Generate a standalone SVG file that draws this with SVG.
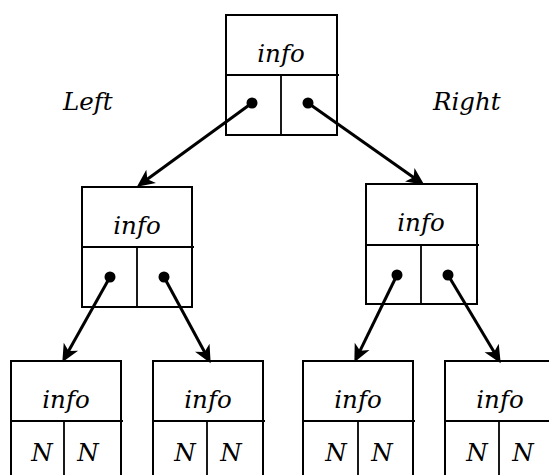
<svg xmlns="http://www.w3.org/2000/svg" width="549" height="475" viewBox="0 0 549 475">
  <style>
    .box { fill: #fff; stroke: #000; stroke-width: 2; }
    .sep { stroke: #000; stroke-width: 1.8; fill: none; }
    .lbl { text-anchor: middle; }
    .ptr { fill: #000; }
    .link { stroke: #000; stroke-width: 3; fill: none; marker-end: url(#head); }
  </style>
  <defs>
    <marker id="head" markerUnits="userSpaceOnUse" markerWidth="20" markerHeight="20" viewBox="-8 -8 17 16" refX="0" refY="0" orient="auto" overflow="visible">
      <path d="M8,0 L-7,-7 L-3,0 L-7,7 Z" fill="#000"/>
    </marker>
  </defs>

  <rect width="549" height="475" fill="#fff"/>

  <!-- side captions -->
  <text x="63" y="110" font-family="DejaVu Serif" font-style="italic" font-size="24.5" fill="#000">Left</text>
  <text x="433" y="110" font-family="DejaVu Serif" font-style="italic" font-size="24.5" fill="#000">Right</text>

  <!-- root -->
  <g id="root">
    <rect class="box" x="226" y="15" width="111" height="120"/>
    <line class="sep" x1="226" y1="75" x2="339" y2="75"/>
    <line class="sep" x1="281" y1="75" x2="281" y2="135"/>
    <text class="lbl" x="281" y="62" font-family="DejaVu Serif" font-style="italic" font-size="24.5" fill="#000">info</text>
    <circle class="ptr" cx="252" cy="103" r="5.5"/>
    <circle class="ptr" cx="308" cy="103" r="5.5"/>
  </g>

  <!-- left child -->
  <g id="left-child">
    <rect class="box" x="82" y="187" width="110" height="120"/>
    <line class="sep" x1="82" y1="247" x2="194" y2="247"/>
    <line class="sep" x1="137" y1="247" x2="137" y2="307"/>
    <text class="lbl" x="137" y="234" font-family="DejaVu Serif" font-style="italic" font-size="24.5" fill="#000">info</text>
    <circle class="ptr" cx="110" cy="277" r="5.5"/>
    <circle class="ptr" cx="164" cy="277" r="5.5"/>
  </g>

  <!-- right child -->
  <g id="right-child">
    <rect class="box" x="366" y="184" width="111" height="120"/>
    <line class="sep" x1="366" y1="245" x2="479" y2="245"/>
    <line class="sep" x1="421" y1="245" x2="421" y2="304"/>
    <text class="lbl" x="421" y="231" font-family="DejaVu Serif" font-style="italic" font-size="24.5" fill="#000">info</text>
    <circle class="ptr" cx="397" cy="275" r="5.5"/>
    <circle class="ptr" cx="448" cy="275" r="5.5"/>
  </g>

  <!-- leaves -->
  <g id="leaf-1">
    <rect class="box" x="11" y="361" width="110" height="120"/>
    <line class="sep" x1="11" y1="421" x2="123" y2="421"/>
    <line class="sep" x1="64" y1="421" x2="64" y2="481"/>
    <text class="lbl" x="66" y="408" font-family="DejaVu Serif" font-style="italic" font-size="24.5" fill="#000">info</text>
    <text class="lbl" x="42" y="461" font-family="DejaVu Serif" font-style="italic" font-size="24.5" fill="#000">N</text>
    <text class="lbl" x="88" y="461" font-family="DejaVu Serif" font-style="italic" font-size="24.5" fill="#000">N</text>
  </g>
  <g id="leaf-2">
    <rect class="box" x="153" y="361" width="110" height="120"/>
    <line class="sep" x1="153" y1="421" x2="265" y2="421"/>
    <line class="sep" x1="207" y1="421" x2="207" y2="481"/>
    <text class="lbl" x="208" y="408" font-family="DejaVu Serif" font-style="italic" font-size="24.5" fill="#000">info</text>
    <text class="lbl" x="185" y="461" font-family="DejaVu Serif" font-style="italic" font-size="24.5" fill="#000">N</text>
    <text class="lbl" x="231" y="461" font-family="DejaVu Serif" font-style="italic" font-size="24.5" fill="#000">N</text>
  </g>
  <g id="leaf-3">
    <rect class="box" x="303" y="361" width="110" height="120"/>
    <line class="sep" x1="303" y1="421" x2="415" y2="421"/>
    <line class="sep" x1="358" y1="421" x2="358" y2="481"/>
    <text class="lbl" x="358" y="408" font-family="DejaVu Serif" font-style="italic" font-size="24.5" fill="#000">info</text>
    <text class="lbl" x="336" y="461" font-family="DejaVu Serif" font-style="italic" font-size="24.5" fill="#000">N</text>
    <text class="lbl" x="382" y="461" font-family="DejaVu Serif" font-style="italic" font-size="24.5" fill="#000">N</text>
  </g>
  <g id="leaf-4">
    <rect class="box" x="445" y="361" width="110" height="120"/>
    <line class="sep" x1="445" y1="421" x2="557" y2="421"/>
    <line class="sep" x1="499" y1="421" x2="499" y2="481"/>
    <text class="lbl" x="500" y="408" font-family="DejaVu Serif" font-style="italic" font-size="24.5" fill="#000">info</text>
    <text class="lbl" x="477" y="461" font-family="DejaVu Serif" font-style="italic" font-size="24.5" fill="#000">N</text>
    <text class="lbl" x="523" y="461" font-family="DejaVu Serif" font-style="italic" font-size="24.5" fill="#000">N</text>
  </g>

  <!-- pointer links -->
  <g id="links">
    <path class="link" d="M252,103 L144.5,181.3"/>
    <path class="link" d="M308,103 L416.5,179.4"/>
    <path class="link" d="M110,277 L66.9,354"/>
    <path class="link" d="M164,277 L206.2,355"/>
    <path class="link" d="M397,275 L358.5,353.8"/>
    <path class="link" d="M448,275 L495.9,355.1"/>
  </g>
</svg>
